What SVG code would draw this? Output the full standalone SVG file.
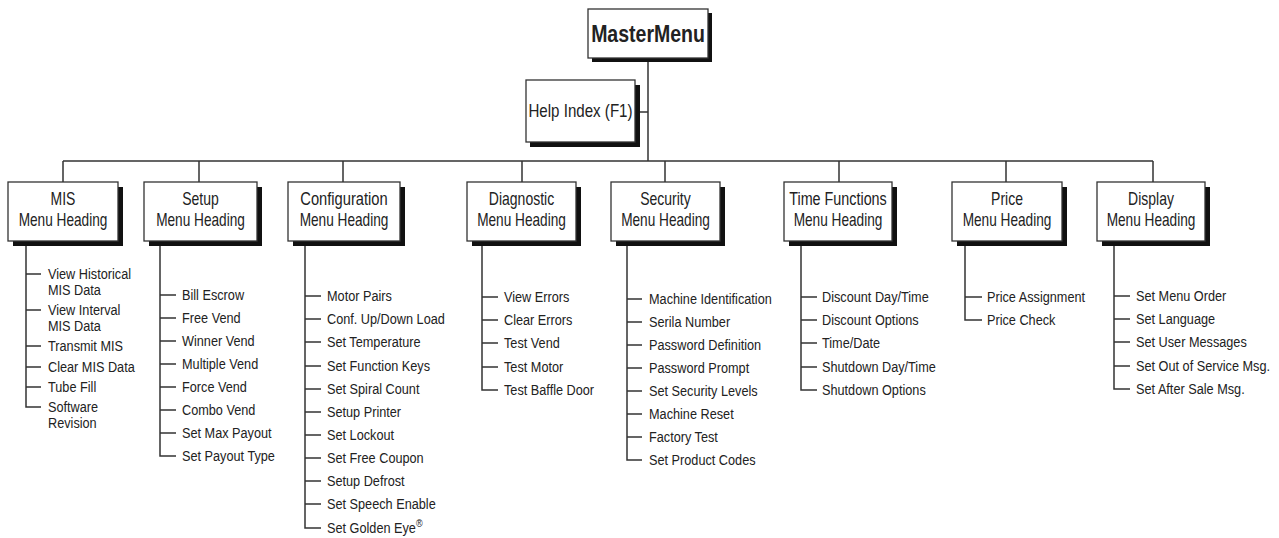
<svg xmlns="http://www.w3.org/2000/svg" width="1279" height="538" viewBox="0 0 1279 538">
<style>
.box{fill:#fff;stroke:#333;stroke-width:1.3}
.sh{fill:#111}
.ln{fill:none;stroke:#333;stroke-width:1.5}
text{font-family:"Liberation Sans",Arial,sans-serif;fill:#222}
.hd{font-size:17.5px;text-anchor:middle}
.it{font-size:15.5px}
.mm{font-size:23.5px;font-weight:bold;text-anchor:middle}
.hi{font-size:18px;text-anchor:middle}
</style>
<rect width="1279" height="538" fill="#fff"/>
<g id="connectors" class="ln">
<path d="M648 58V161M635 112H648M63 161H1153M63 161V182M199 161V182M343 161V182M522 161V182M665 161V182M839 161V182M1006 161V182M1153 161V182"/>
<path d="M26 241V407H41M26 274H41M26 310H41M26 346H41M26 367H41M26 387H41"/>
<path d="M160 241V456H176M160 295H176M160 318H176M160 341H176M160 364H176M160 387H176M160 410H176M160 433H176"/>
<path d="M305 241V528H321M305 296H321M305 319H321M305 342H321M305 366H321M305 389H321M305 412H321M305 435H321M305 458H321M305 481H321M305 504H321"/>
<path d="M482 241V390H498M482 297H498M482 320H498M482 343H498M482 367H498"/>
<path d="M627 241V460H642M627 299H642M627 322H642M627 345H642M627 368H642M627 391H642M627 414H642M627 437H642"/>
<path d="M801 241V390H817M801 297H817M801 320H817M801 343H817M801 367H817"/>
<path d="M965 241V320H982M965 297H982"/>
<path d="M1114 241V389H1130M1114 296H1130M1114 319H1130M1114 342H1130M1114 366H1130"/>
</g>
<g id="master"><rect class="sh" x="592" y="13" width="120" height="49"/><rect class="box" x="588" y="9" width="120" height="49"/><text class="mm" transform="translate(648 42) scale(.83 1)">MasterMenu</text></g>
<g id="help"><rect class="sh" x="530" y="85" width="110" height="62"/><rect class="box" x="526" y="80" width="109" height="62"/><text class="hi" transform="translate(580.5 117) scale(.84 1)">Help Index (F1)</text></g>
<g id="mis"><rect class="sh" x="13" y="187" width="110" height="59"/><rect class="box" x="8" y="182" width="110" height="59"/><text class="hd" transform="translate(63 205) scale(.8 1)">MIS</text><text class="hd" transform="translate(63 226) scale(.78 1)">Menu Heading</text></g>
<g id="setup"><rect class="sh" x="149" y="187" width="113" height="59"/><rect class="box" x="144" y="182" width="113" height="59"/><text class="hd" transform="translate(200.5 205) scale(.8 1)">Setup</text><text class="hd" transform="translate(200.5 226) scale(.78 1)">Menu Heading</text></g>
<g id="config"><rect class="sh" x="293" y="187" width="112" height="59"/><rect class="box" x="288" y="182" width="112" height="59"/><text class="hd" transform="translate(344 205) scale(.84 1)">Configuration</text><text class="hd" transform="translate(344 226) scale(.78 1)">Menu Heading</text></g>
<g id="diag"><rect class="sh" x="472" y="187" width="109" height="59"/><rect class="box" x="467" y="182" width="109" height="59"/><text class="hd" transform="translate(521.5 205) scale(.8 1)">Diagnostic</text><text class="hd" transform="translate(521.5 226) scale(.78 1)">Menu Heading</text></g>
<g id="security"><rect class="sh" x="616" y="187" width="109" height="59"/><rect class="box" x="611" y="182" width="109" height="59"/><text class="hd" transform="translate(665.5 205) scale(.8 1)">Security</text><text class="hd" transform="translate(665.5 226) scale(.78 1)">Menu Heading</text></g>
<g id="time"><rect class="sh" x="789" y="187" width="108" height="59"/><rect class="box" x="784" y="182" width="108" height="59"/><text class="hd" transform="translate(838 205) scale(.82 1)">Time Functions</text><text class="hd" transform="translate(838 226) scale(.78 1)">Menu Heading</text></g>
<g id="price"><rect class="sh" x="957" y="187" width="110" height="59"/><rect class="box" x="952" y="182" width="110" height="59"/><text class="hd" transform="translate(1007 205) scale(.8 1)">Price</text><text class="hd" transform="translate(1007 226) scale(.78 1)">Menu Heading</text></g>
<g id="display"><rect class="sh" x="1102" y="187" width="108" height="59"/><rect class="box" x="1097" y="182" width="108" height="59"/><text class="hd" transform="translate(1151 205) scale(.8 1)">Display</text><text class="hd" transform="translate(1151 226) scale(.78 1)">Menu Heading</text></g>
<g id="mis-items">
<text class="it" transform="translate(48 279) scale(.82 1)">View Historical</text>
<text class="it" transform="translate(48 295) scale(.82 1)">MIS Data</text>
<text class="it" transform="translate(48 315) scale(.82 1)">View Interval</text>
<text class="it" transform="translate(48 331) scale(.82 1)">MIS Data</text>
<text class="it" transform="translate(48 351) scale(.82 1)">Transmit MIS</text>
<text class="it" transform="translate(48 372) scale(.82 1)">Clear MIS Data</text>
<text class="it" transform="translate(48 392) scale(.82 1)">Tube Fill</text>
<text class="it" transform="translate(48 412) scale(.82 1)">Software</text>
<text class="it" transform="translate(48 428) scale(.82 1)">Revision</text>
</g>
<g id="setup-items">
<text class="it" transform="translate(182 300) scale(.82 1)">Bill Escrow</text>
<text class="it" transform="translate(182 323) scale(.82 1)">Free Vend</text>
<text class="it" transform="translate(182 346) scale(.82 1)">Winner Vend</text>
<text class="it" transform="translate(182 369) scale(.82 1)">Multiple Vend</text>
<text class="it" transform="translate(182 392) scale(.82 1)">Force Vend</text>
<text class="it" transform="translate(182 415) scale(.82 1)">Combo Vend</text>
<text class="it" transform="translate(182 438) scale(.82 1)">Set Max Payout</text>
<text class="it" transform="translate(182 461) scale(.82 1)">Set Payout Type</text>
</g>
<g id="config-items">
<text class="it" transform="translate(327 301) scale(.82 1)">Motor Pairs</text>
<text class="it" transform="translate(327 324) scale(.82 1)">Conf. Up/Down Load</text>
<text class="it" transform="translate(327 347) scale(.82 1)">Set Temperature</text>
<text class="it" transform="translate(327 371) scale(.82 1)">Set Function Keys</text>
<text class="it" transform="translate(327 394) scale(.82 1)">Set Spiral Count</text>
<text class="it" transform="translate(327 417) scale(.82 1)">Setup Printer</text>
<text class="it" transform="translate(327 440) scale(.82 1)">Set Lockout</text>
<text class="it" transform="translate(327 463) scale(.82 1)">Set Free Coupon</text>
<text class="it" transform="translate(327 486) scale(.82 1)">Setup Defrost</text>
<text class="it" transform="translate(327 509) scale(.82 1)">Set Speech Enable</text>
<text class="it" transform="translate(327 533) scale(.82 1)">Set Golden Eye<tspan font-size="11" dy="-6">®</tspan></text>
</g>
<g id="diag-items">
<text class="it" transform="translate(504 302) scale(.82 1)">View Errors</text>
<text class="it" transform="translate(504 325) scale(.82 1)">Clear Errors</text>
<text class="it" transform="translate(504 348) scale(.82 1)">Test Vend</text>
<text class="it" transform="translate(504 372) scale(.82 1)">Test Motor</text>
<text class="it" transform="translate(504 395) scale(.82 1)">Test Baffle Door</text>
</g>
<g id="security-items">
<text class="it" transform="translate(649 304) scale(.82 1)">Machine Identification</text>
<text class="it" transform="translate(649 327) scale(.82 1)">Serila Number</text>
<text class="it" transform="translate(649 350) scale(.82 1)">Password Definition</text>
<text class="it" transform="translate(649 373) scale(.82 1)">Password Prompt</text>
<text class="it" transform="translate(649 396) scale(.82 1)">Set Security Levels</text>
<text class="it" transform="translate(649 419) scale(.82 1)">Machine Reset</text>
<text class="it" transform="translate(649 442) scale(.82 1)">Factory Test</text>
<text class="it" transform="translate(649 465) scale(.82 1)">Set Product Codes</text>
</g>
<g id="time-items">
<text class="it" transform="translate(822 302) scale(.82 1)">Discount Day/Time</text>
<text class="it" transform="translate(822 325) scale(.82 1)">Discount Options</text>
<text class="it" transform="translate(822 348) scale(.82 1)">Time/Date</text>
<text class="it" transform="translate(822 372) scale(.82 1)">Shutdown Day/Time</text>
<text class="it" transform="translate(822 395) scale(.82 1)">Shutdown Options</text>
</g>
<g id="price-items">
<text class="it" transform="translate(987 302) scale(.82 1)">Price Assignment</text>
<text class="it" transform="translate(987 325) scale(.82 1)">Price Check</text>
</g>
<g id="display-items">
<text class="it" transform="translate(1136 301) scale(.82 1)">Set Menu Order</text>
<text class="it" transform="translate(1136 324) scale(.82 1)">Set Language</text>
<text class="it" transform="translate(1136 347) scale(.82 1)">Set User Messages</text>
<text class="it" transform="translate(1136 371) scale(.82 1)">Set Out of Service Msg.</text>
<text class="it" transform="translate(1136 394) scale(.82 1)">Set After Sale Msg.</text>
</g>
</svg>
